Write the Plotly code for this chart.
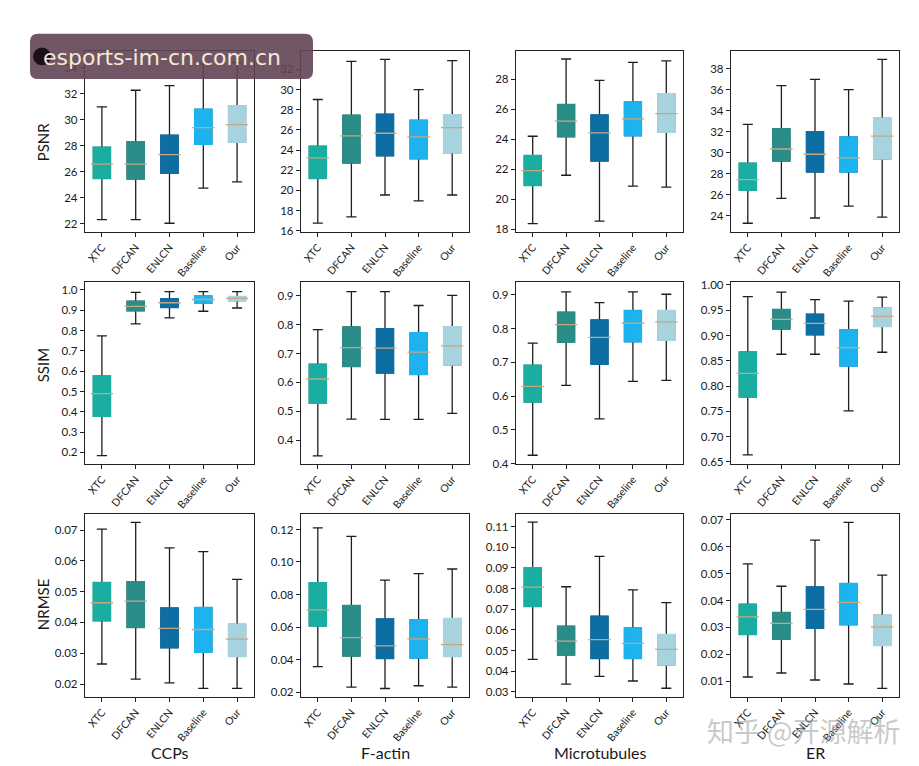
import plotly.graph_objects as go

W, H = 919, 766

methods = ["XTC", "DFCAN", "ENLCN", "Baseline", "Our"]
colors = ["#19aea1", "#2b8d88", "#0c6ea2", "#1cb3ef", "#a6d3de"]
datasets = ["CCPs", "F-actin", "Microtubules", "ER"]
metrics = ["PSNR", "SSIM", "NRMSE"]

# ---- PSNR ----
ccps_psnr_lo = [22.33, 22.33, 22.05, 24.75, 25.23]
ccps_psnr_q1 = [25.5, 25.46, 25.9, 28.14, 28.29]
ccps_psnr_med = [26.6, 26.6, 27.33, 29.4, 29.63]
ccps_psnr_q3 = [27.88, 28.3, 28.8, 30.81, 31.07]
ccps_psnr_hi = [31.0, 32.28, 32.63, 34.3, 34.4]

factin_psnr_lo = [16.75, 17.37, 19.55, 18.96, 19.55]
factin_psnr_q1 = [21.21, 22.74, 23.46, 23.16, 23.75]
factin_psnr_med = [23.23, 25.41, 25.67, 25.31, 26.22]
factin_psnr_q3 = [24.37, 27.43, 27.53, 26.94, 27.5]
factin_psnr_hi = [29.02, 32.8, 33.0, 30.0, 32.87]

micro_psnr_lo = [18.39, 21.61, 18.55, 20.89, 20.82]
micro_psnr_q1 = [20.93, 24.19, 22.57, 24.26, 24.48]
micro_psnr_med = [21.92, 25.22, 24.43, 25.37, 25.72]
micro_psnr_q3 = [22.92, 26.32, 25.61, 26.49, 27.04]
micro_psnr_hi = [24.21, 29.36, 27.93, 29.14, 29.23]

er_psnr_lo = [23.31, 25.68, 23.81, 24.94, 23.9]
er_psnr_q1 = [26.46, 29.24, 28.18, 28.18, 29.43]
er_psnr_med = [27.46, 30.36, 29.86, 29.52, 31.58]
er_psnr_q3 = [28.99, 32.26, 31.98, 31.48, 33.26]
er_psnr_hi = [32.7, 36.38, 36.97, 36.0, 38.87]

# ---- SSIM ----
ccps_ssim_lo = [0.184, 0.833, 0.862, 0.895, 0.911]
ccps_ssim_q1 = [0.379, 0.898, 0.914, 0.937, 0.948]
ccps_ssim_med = [0.49, 0.919, 0.937, 0.953, 0.958]
ccps_ssim_q3 = [0.575, 0.943, 0.956, 0.969, 0.967]
ccps_ssim_hi = [0.774, 0.988, 0.992, 0.992, 0.992]

factin_ssim_lo = [0.345, 0.473, 0.472, 0.472, 0.493]
factin_ssim_q1 = [0.528, 0.656, 0.633, 0.628, 0.661]
factin_ssim_med = [0.612, 0.721, 0.719, 0.705, 0.727]
factin_ssim_q3 = [0.663, 0.792, 0.786, 0.772, 0.793]
factin_ssim_hi = [0.783, 0.915, 0.915, 0.867, 0.902]

micro_ssim_lo = [0.425, 0.632, 0.533, 0.644, 0.647]
micro_ssim_q1 = [0.583, 0.76, 0.695, 0.762, 0.766]
micro_ssim_med = [0.629, 0.812, 0.774, 0.816, 0.82]
micro_ssim_q3 = [0.691, 0.848, 0.825, 0.853, 0.853]
micro_ssim_hi = [0.757, 0.909, 0.877, 0.909, 0.902]

er_ssim_lo = [0.664, 0.863, 0.863, 0.751, 0.867]
er_ssim_q1 = [0.779, 0.913, 0.902, 0.84, 0.918]
er_ssim_med = [0.825, 0.932, 0.924, 0.876, 0.938]
er_ssim_q3 = [0.867, 0.951, 0.942, 0.911, 0.954]
er_ssim_hi = [0.977, 0.986, 0.971, 0.968, 0.976]

# ---- NRMSE ----
ccps_nrmse_lo = [0.0265, 0.0216, 0.0204, 0.0186, 0.0186]
ccps_nrmse_q1 = [0.0406, 0.0384, 0.0318, 0.0304, 0.029]
ccps_nrmse_med = [0.0464, 0.0469, 0.0381, 0.0377, 0.0346]
ccps_nrmse_q3 = [0.0529, 0.0532, 0.0446, 0.0448, 0.0394]
ccps_nrmse_hi = [0.0703, 0.0725, 0.0642, 0.063, 0.054]

factin_nrmse_lo = [0.0356, 0.023, 0.0222, 0.0239, 0.023]
factin_nrmse_q1 = [0.0608, 0.0423, 0.0407, 0.0411, 0.0419]
factin_nrmse_med = [0.0705, 0.0535, 0.0484, 0.0527, 0.0492]
factin_nrmse_q3 = [0.0871, 0.0731, 0.0648, 0.0644, 0.0652]
factin_nrmse_hi = [0.121, 0.1157, 0.0888, 0.0928, 0.0957]

micro_nrmse_lo = [0.0458, 0.0338, 0.0375, 0.0353, 0.0318]
micro_nrmse_q1 = [0.0714, 0.0479, 0.0463, 0.0463, 0.0431]
micro_nrmse_med = [0.0807, 0.0546, 0.0553, 0.0535, 0.0506]
micro_nrmse_q3 = [0.09, 0.0617, 0.0665, 0.0609, 0.0577]
micro_nrmse_hi = [0.1121, 0.0809, 0.0956, 0.0794, 0.0732]

er_nrmse_lo = [0.0116, 0.0131, 0.0105, 0.009, 0.0074]
er_nrmse_q1 = [0.0274, 0.0257, 0.0298, 0.0311, 0.0234]
er_nrmse_med = [0.0339, 0.0315, 0.0367, 0.0393, 0.0302]
er_nrmse_q3 = [0.0386, 0.0355, 0.045, 0.0463, 0.0345]
er_nrmse_hi = [0.0536, 0.0453, 0.0624, 0.069, 0.0494]

panels = [
    [(ccps_psnr_lo, ccps_psnr_q1, ccps_psnr_med, ccps_psnr_q3, ccps_psnr_hi),
     (factin_psnr_lo, factin_psnr_q1, factin_psnr_med, factin_psnr_q3, factin_psnr_hi),
     (micro_psnr_lo, micro_psnr_q1, micro_psnr_med, micro_psnr_q3, micro_psnr_hi),
     (er_psnr_lo, er_psnr_q1, er_psnr_med, er_psnr_q3, er_psnr_hi)],
    [(ccps_ssim_lo, ccps_ssim_q1, ccps_ssim_med, ccps_ssim_q3, ccps_ssim_hi),
     (factin_ssim_lo, factin_ssim_q1, factin_ssim_med, factin_ssim_q3, factin_ssim_hi),
     (micro_ssim_lo, micro_ssim_q1, micro_ssim_med, micro_ssim_q3, micro_ssim_hi),
     (er_ssim_lo, er_ssim_q1, er_ssim_med, er_ssim_q3, er_ssim_hi)],
    [(ccps_nrmse_lo, ccps_nrmse_q1, ccps_nrmse_med, ccps_nrmse_q3, ccps_nrmse_hi),
     (factin_nrmse_lo, factin_nrmse_q1, factin_nrmse_med, factin_nrmse_q3, factin_nrmse_hi),
     (micro_nrmse_lo, micro_nrmse_q1, micro_nrmse_med, micro_nrmse_q3, micro_nrmse_hi),
     (er_nrmse_lo, er_nrmse_q1, er_nrmse_med, er_nrmse_q3, er_nrmse_hi)],
]

# axis ranges / ticks
y_ranges = [
    [[21.37, 35.26], [15.87, 33.78], [17.82, 29.86], [22.47, 39.62]],
    [[0.143, 1.037], [0.317, 0.947], [0.399, 0.937], [0.646, 1.005]],
    [[0.0158, 0.0751], [0.017, 0.1293], [0.0276, 0.1159], [0.0042, 0.072]],
]
y_dticks = [[2, 2, 2, 2], [0.1, 0.1, 0.1, 0.05], [0.01, 0.02, 0.01, 0.01]]
y_formats = [["d", "d", "d", "d"], [".1f", ".1f", ".1f", ".2f"], [".2f", ".2f", ".2f", ".2f"]]

col_px = [(77, 246), (293, 461), (508, 675), (723, 891)]
row_px = [(40, 223), (274, 458), (509, 694)]

FONT = "Lato"
fig = go.Figure()
layout_axes = {}

for r in range(3):
    for c in range(4):
        k = r * 4 + c + 1
        xa = "x" if k == 1 else f"x{k}"
        ya = "y" if k == 1 else f"y{k}"
        lo, q1, med, q3, hi = panels[r][c]
        # whiskers (black)
        fig.add_trace(go.Box(
            x=methods, q1=q1, median=med, q3=q3, lowerfence=lo, upperfence=hi,
            xaxis=xa, yaxis=ya, width=0.5, whiskerwidth=0.6,
            line=dict(color="#1e1e1e", width=1.3), fillcolor="white",
            boxpoints=False, showlegend=False, hoverinfo="skip"))
        # coloured boxes
        for i, m in enumerate(methods):
            fig.add_trace(go.Box(
                x=[m], q1=[q1[i]], median=[med[i]], q3=[q3[i]],
                lowerfence=[q1[i]], upperfence=[q3[i]],
                xaxis=xa, yaxis=ya, width=0.5, whiskerwidth=0,
                line=dict(color=colors[i], width=1.8), fillcolor=colors[i],
                boxpoints=False, showlegend=False, hoverinfo="skip"))
        # median lines
        fig.add_trace(go.Scatter(
            x=methods, y=med, mode="markers", xaxis=xa, yaxis=ya,
            marker=dict(symbol="line-ew", size=16,
                        line=dict(color="#c4a882", width=1.3)),
            showlegend=False, hoverinfo="skip"))

        x0, x1 = col_px[c]
        t, b = row_px[r]
        axis_common = dict(showline=True, mirror=True, linecolor="#222", linewidth=1.3,
                           ticks="outside", ticklen=4, tickwidth=1.1, tickcolor="#222",
                           showgrid=False, zeroline=False)
        layout_axes["xaxis" if k == 1 else f"xaxis{k}"] = dict(
            domain=[x0 / W, x1 / W], anchor=ya, type="category",
            categoryorder="array", categoryarray=methods, range=[-0.5, 4.5],
            tickangle=-50, tickfont=dict(family=FONT, size=10.5, color="#1a1a1a"),
            **axis_common)
        layout_axes["yaxis" if k == 1 else f"yaxis{k}"] = dict(
            domain=[1 - b / H, 1 - t / H], anchor=xa, range=y_ranges[r][c],
            dtick=y_dticks[r][c], tickformat=y_formats[r][c],
            tickfont=dict(family=FONT, size=11.5, color="#1a1a1a"), **axis_common)

annotations = []
row_label_y = [132, 358, 600]
for r, name in enumerate(metrics):
    annotations.append(dict(text=name, x=35 / W, y=1 - row_label_y[r] / H, xref="paper",
                            yref="paper", xanchor="center", yanchor="middle",
                            showarrow=False, textangle=-90,
                            font=dict(family=FONT, size=15, color="#1a1a1a")))
for c, name in enumerate(datasets):
    annotations.append(dict(text=name, x=(col_px[c][0] + col_px[c][1]) / 2 / W,
                            y=1 - 750 / H, xref="paper", yref="paper",
                            xanchor="center", yanchor="middle", showarrow=False,
                            font=dict(family=FONT, size=16, color="#1a1a1a")))
# watermarks
annotations.append(dict(text="esports-im-cn.com.cn", x=33 / W, y=1 - 46 / H, xref="paper",
                        yref="paper", xanchor="left", yanchor="middle", showarrow=False,
                        font=dict(family="DejaVu Sans", size=22, color="#f4ead6")))
annotations.append(dict(text="知乎 @开源解析", x=796 / W, y=1 - 728 / H, xref="paper",
                        yref="paper", xanchor="center", yanchor="middle", showarrow=False,
                        font=dict(family="Noto Sans CJK SC", size=27,
                                  color="rgba(165,165,165,0.6)")))


def px_path(x0, y0, x1, y1, rad):
    def P(x, y):
        return f"{x / W:.5f},{1 - y / H:.5f}"
    return (f"M {P(x0 + rad, y0)} L {P(x1 - rad, y0)} Q {P(x1, y0)} {P(x1, y0 + rad)} "
            f"L {P(x1, y1 - rad)} Q {P(x1, y1)} {P(x1 - rad, y1)} L {P(x0 + rad, y1)} "
            f"Q {P(x0, y1)} {P(x0, y1 - rad)} L {P(x0, y0 + rad)} Q {P(x0, y0)} {P(x0 + rad, y0)} Z")


shapes = [
    dict(type="path", path=px_path(22, 22, 305, 68, 8), xref="paper", yref="paper",
         fillcolor="rgba(98,68,84,0.9)", line=dict(width=0), layer="above"),
    dict(type="circle", xref="paper", yref="paper", x0=25 / W, x1=43 / W,
         y0=1 - 54 / H, y1=1 - 36 / H, fillcolor="#1a1016", line=dict(width=0),
         layer="above"),
]

fig.update_layout(
    width=W, height=H, margin=dict(l=0, r=0, t=0, b=0),
    paper_bgcolor="white", plot_bgcolor="white", boxmode="overlay",
    font=dict(family=FONT, color="#222"),
    annotations=annotations, shapes=shapes, **layout_axes)

fig.write_html("out.html")
